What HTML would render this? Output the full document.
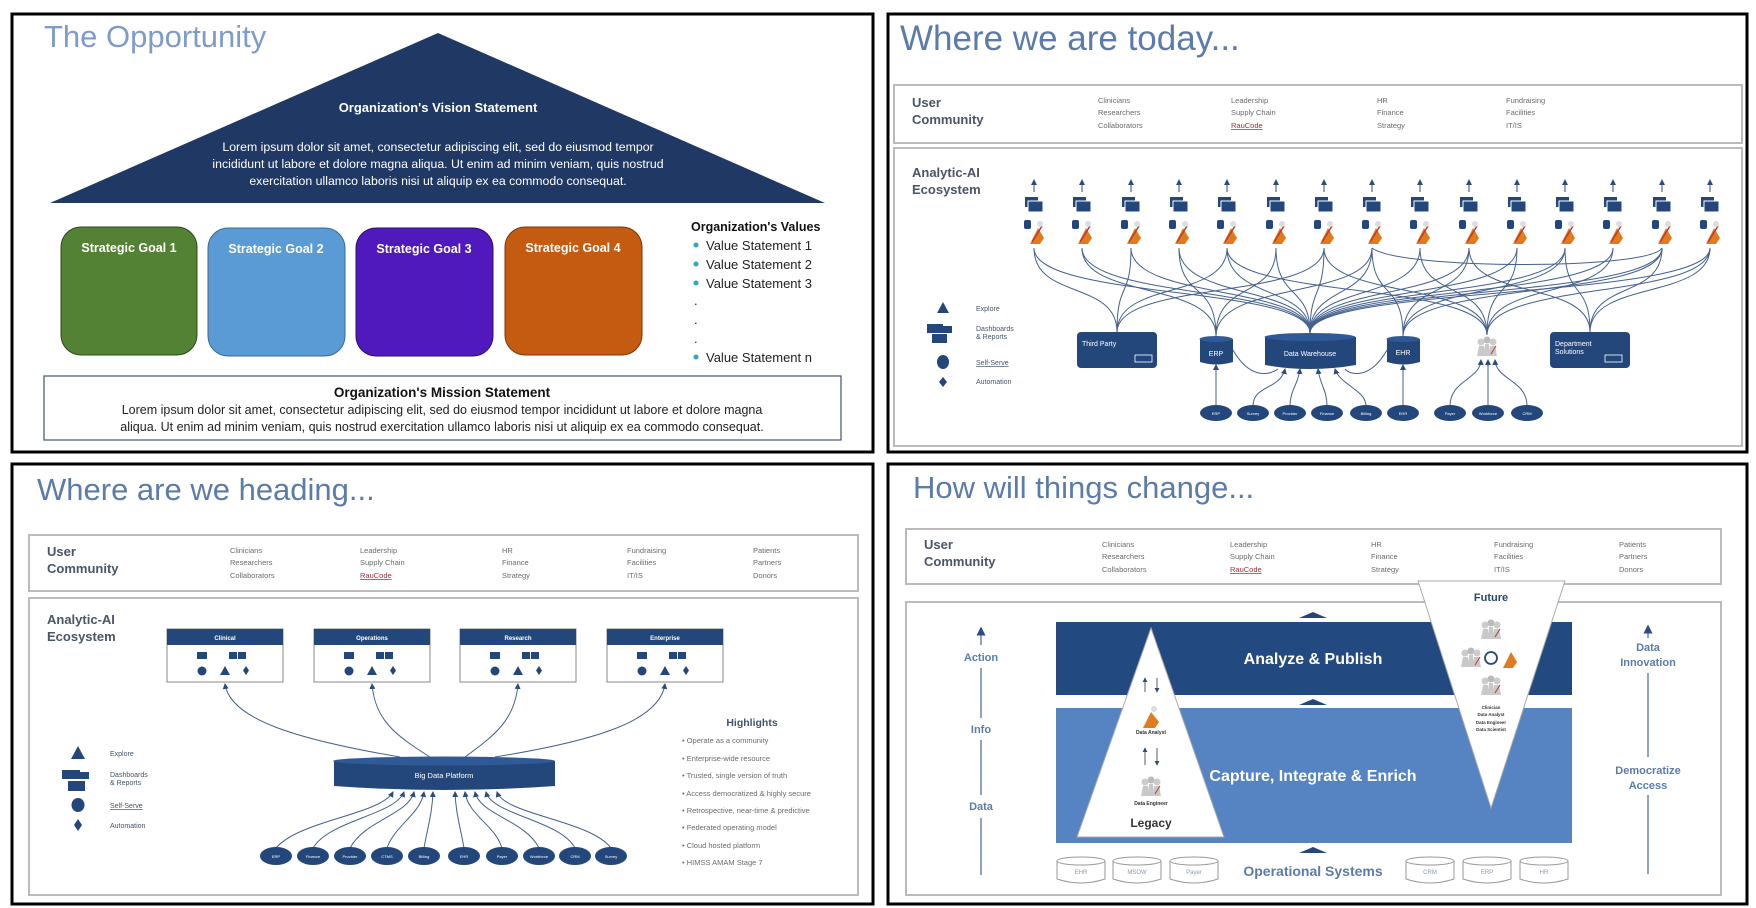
<!DOCTYPE html>
<html><head><meta charset="utf-8"><style>
html,body{margin:0;padding:0;background:#fff;}
svg{display:block;font-family:"Liberation Sans",sans-serif;}
.t{fill:#5b7cab;font-size:31px;}
.uc{fill:#4a5568;font-size:13px;font-weight:bold;}
.sm{fill:#6b6b6b;font-size:7.5px;}
.lg{fill:#44546a;font-size:7px;}
.cv{fill:none;stroke:#44618f;stroke-width:1;}
.nv{fill:#24477b;}
</style></head><body>
<svg width="1756" height="908" viewBox="0 0 1756 908" xmlns="http://www.w3.org/2000/svg">
<defs>
<marker id="ah" markerWidth="6" markerHeight="6" refX="5" refY="3" orient="auto"><path d="M0,0 L6,3 L0,6 z" fill="#2b4c80"/></marker>
<g id="col">
<line x1="0" y1="192" x2="0" y2="180" stroke="#2b4c80" stroke-width="1" marker-end="url(#ah)"/>
<rect x="-9" y="197" width="13" height="10" fill="#24477b"/>
<rect x="-6" y="201" width="15" height="11" fill="#24477b" stroke="#fff" stroke-width="1"/>
<rect x="-10" y="220" width="7" height="9" rx="2" fill="#24477b"/>
<path d="M-4 244 L4 228 L10 238 L6 244 Z" fill="#e07b20"/>
<path d="M-2 242 L8 226" stroke="#c0392b" stroke-width="1.5"/>
<circle cx="6" cy="224" r="3" fill="#ddd"/>
</g>
<g id="bx">
<rect x="0" y="0" width="116" height="53" fill="#fff" stroke="#888" stroke-width="1"/>
<rect x="0" y="0" width="116" height="16" fill="#24477b"/>
<rect x="30" y="23" width="10" height="7" fill="#24477b"/>
<rect x="62" y="23" width="8" height="7" fill="#24477b"/><rect x="71" y="23" width="8" height="7" fill="#24477b"/>
<circle cx="35" cy="42" r="4.5" fill="#24477b"/>
<path d="M53 46 L58 37 L63 46 Z" fill="#24477b"/>
<path d="M79 37 L82 41.5 L79 46 L76 41.5 Z" fill="#24477b"/>
</g>
<g id="cyl">
<path d="M0 4 L0 22 Q24 30 48 22 L48 4" fill="#fff" stroke="#999"/>
<ellipse cx="24" cy="4" rx="24" ry="4" fill="#fff" stroke="#999"/>
</g>
<g id="ppl">
<circle cx="-6" cy="-6" r="3.5" fill="#ccc"/><circle cx="0" cy="-8" r="3.5" fill="#bbb"/><circle cx="6" cy="-6" r="3.5" fill="#ccc"/>
<path d="M-10 8 L-8 -2 L-3 -2 L-2 8 Z M-3 8 L-2 -4 L2 -4 L3 8 Z M2 8 L3 -2 L8 -2 L10 8Z" fill="#c9c9c9"/>
<path d="M4 6 L9 -2" stroke="#c0392b" stroke-width="1"/>
</g>
</defs>
<rect width="1756" height="908" fill="#fff"/>

<rect x="12" y="14" width="861" height="438" fill="none" stroke="#000" stroke-width="3"/>
<rect x="888" y="14" width="859" height="438" fill="none" stroke="#000" stroke-width="3"/>
<rect x="12" y="464" width="861" height="440" fill="none" stroke="#000" stroke-width="3"/>
<rect x="888" y="464" width="859" height="440" fill="none" stroke="#000" stroke-width="3"/>

<!-- TL -->
<text x="44" y="47" fill="#7f9cc9" font-size="31">The Opportunity</text>
<polygon points="438,33 825,203 50,203" fill="#1f3864"/>
<text x="438" y="112" fill="#fff" font-size="13" font-weight="bold" text-anchor="middle">Organization's Vision Statement</text>
<g fill="#fff" font-size="12.3" text-anchor="middle">
<text x="438" y="151">Lorem ipsum dolor sit amet, consectetur adipiscing elit, sed do eiusmod tempor</text>
<text x="438" y="168">incididunt ut labore et dolore magna aliqua. Ut enim ad minim veniam, quis nostrud</text>
<text x="438" y="185">exercitation ullamco laboris nisi ut aliquip ex ea commodo consequat.</text>
</g>
<rect x="61" y="227" width="136" height="128" rx="20" fill="#548235" stroke="#2d4a1c"/>
<rect x="208" y="228" width="137" height="128" rx="20" fill="#5b9bd5" stroke="#3a6a98"/>
<rect x="356" y="228" width="137" height="128" rx="20" fill="#5019bd" stroke="#2e0e70"/>
<rect x="505" y="227" width="137" height="128" rx="20" fill="#c55a11" stroke="#7a370a"/>
<g fill="#fff" font-size="12.5" font-weight="bold" text-anchor="middle">
<text x="129" y="252">Strategic Goal 1</text>
<text x="276" y="253">Strategic Goal 2</text>
<text x="424" y="253">Strategic Goal 3</text>
<text x="573" y="252">Strategic Goal 4</text>
</g>
<text x="691" y="231" fill="#111" font-size="12.5" font-weight="bold">Organization's Values</text>
<g fill="#2fa6c0"><circle cx="696" cy="245" r="2.5"/><circle cx="696" cy="264" r="2.5"/><circle cx="696" cy="283" r="2.5"/><circle cx="696" cy="357" r="2.5"/></g>
<g fill="#222" font-size="13">
<text x="706" y="250">Value Statement 1</text>
<text x="706" y="269">Value Statement 2</text>
<text x="706" y="288">Value Statement 3</text>
<text x="694" y="305">.</text><text x="694" y="324">.</text><text x="694" y="343">.</text>
<text x="706" y="362">Value Statement n</text>
</g>
<rect x="44" y="376" width="797" height="64" fill="#fff" stroke="#44546a" stroke-width="1.2"/>
<text x="442" y="397" fill="#111" font-size="13.5" font-weight="bold" text-anchor="middle">Organization's Mission Statement</text>
<g fill="#222" font-size="12.5" text-anchor="middle">
<text x="442" y="414">Lorem ipsum dolor sit amet, consectetur adipiscing elit, sed do eiusmod tempor incididunt ut labore et dolore magna</text>
<text x="442" y="431">aliqua. Ut enim ad minim veniam, quis nostrud exercitation ullamco laboris nisi ut aliquip ex ea commodo consequat.</text>
</g>

<!-- TR -->
<text class="t" x="900" y="50" font-size="35" style="font-size:35px">Where we are today...</text>
<rect x="894" y="85" width="848" height="58" fill="#fff" stroke="#bbb" stroke-width="2"/>
<text class="uc" x="912" y="107">User</text><text class="uc" x="912" y="124">Community</text>
<g class="sm">
<text x="1098" y="103">Clinicians</text><text x="1098" y="115">Researchers</text><text x="1098" y="128">Collaborators</text>
<text x="1231" y="103">Leadership</text><text x="1231" y="115">Supply Chain</text><text x="1231" y="128" fill="#a0303a" text-decoration="underline">RauCode</text>
<text x="1377" y="103">HR</text><text x="1377" y="115">Finance</text><text x="1377" y="128">Strategy</text>
<text x="1506" y="103">Fundraising</text><text x="1506" y="115">Facilities</text><text x="1506" y="128">IT/IS</text>
</g>
<rect x="894" y="148" width="848" height="298" fill="#fff" stroke="#bbb" stroke-width="2"/>
<text class="uc" x="912" y="177">Analytic-AI</text><text class="uc" x="912" y="194">Ecosystem</text>
<use href="#col" x="1034"/><use href="#col" x="1082"/><use href="#col" x="1131"/><use href="#col" x="1179"/><use href="#col" x="1227"/>
<use href="#col" x="1276"/><use href="#col" x="1324"/><use href="#col" x="1372"/><use href="#col" x="1420"/><use href="#col" x="1469"/>
<use href="#col" x="1517"/><use href="#col" x="1565"/><use href="#col" x="1613"/><use href="#col" x="1662"/><use href="#col" x="1710"/>
<g class="cv">
<path d="M1310 333 C1310 285 1034 300 1034 248"/><path d="M1310 333 C1310 285 1082 300 1082 248"/><path d="M1310 333 C1310 285 1131 300 1131 248"/>
<path d="M1310 333 C1310 285 1179 300 1179 248"/><path d="M1310 333 C1310 285 1227 300 1227 248"/><path d="M1310 333 C1310 285 1276 300 1276 248"/>
<path d="M1310 333 C1310 285 1324 300 1324 248"/><path d="M1310 333 C1310 285 1372 300 1372 248"/><path d="M1310 333 C1310 285 1420 300 1420 248"/>
<path d="M1310 333 C1310 285 1469 300 1469 248"/><path d="M1310 333 C1310 285 1517 300 1517 248"/><path d="M1310 333 C1310 285 1565 300 1565 248"/>
<path d="M1310 333 C1310 285 1613 300 1613 248"/><path d="M1310 333 C1310 285 1662 300 1662 248"/><path d="M1310 333 C1310 285 1710 300 1710 248"/>
<path d="M1117 332 C1117 280 1034 300 1034 248"/><path d="M1117 332 C1117 280 1131 300 1131 248"/><path d="M1117 332 C1117 280 1227 300 1227 248"/><path d="M1117 332 C1117 280 1324 300 1324 248"/>
<path d="M1216 336 C1216 280 1082 300 1082 248"/><path d="M1216 336 C1216 280 1179 300 1179 248"/><path d="M1216 336 C1216 280 1276 300 1276 248"/><path d="M1216 336 C1216 280 1372 300 1372 248"/>
<path d="M1403 336 C1403 280 1372 300 1372 248"/><path d="M1403 336 C1403 280 1469 300 1469 248"/><path d="M1403 336 C1403 280 1565 300 1565 248"/><path d="M1403 336 C1403 280 1662 300 1662 248"/>
<path d="M1487 335 C1487 280 1227 300 1227 248"/><path d="M1487 335 C1487 280 1324 300 1324 248"/><path d="M1487 335 C1487 280 1420 300 1420 248"/><path d="M1487 335 C1487 280 1517 300 1517 248"/><path d="M1487 335 C1487 280 1613 300 1613 248"/><path d="M1487 335 C1487 280 1710 300 1710 248"/>
<path d="M1590 332 C1590 280 1469 300 1469 248"/><path d="M1590 332 C1590 280 1565 300 1565 248"/><path d="M1590 332 C1590 280 1662 300 1662 248"/><path d="M1590 332 C1590 280 1710 300 1710 248"/>
<path d="M1372 248 C1400 270 1650 270 1662 248"/>
</g>
<rect x="1077" y="332" width="80" height="36" rx="4" class="nv"/>
<text x="1082" y="346" fill="#fff" font-size="7">Third Party</text>
<rect x="1135" y="355" width="17" height="7" fill="none" stroke="#fff" stroke-width="0.8"/>
<path d="M1200 339 L1200 362 Q1216 367 1233 362 L1233 339 Z" class="nv"/><ellipse cx="1216" cy="339" rx="16.5" ry="3" fill="#2f5a96"/>
<text x="1216" y="356" fill="#fff" font-size="7" text-anchor="middle">ERP</text>
<path d="M1265 337 L1265 365 Q1310 373 1356 365 L1356 337 Z" class="nv"/><ellipse cx="1310" cy="337" rx="45.5" ry="4" fill="#2f5a96"/>
<text x="1310" y="356" fill="#fff" font-size="7" text-anchor="middle">Data Warehouse</text>
<path d="M1387 339 L1387 362 Q1403 367 1420 362 L1420 339 Z" class="nv"/><ellipse cx="1403" cy="339" rx="16.5" ry="3" fill="#2f5a96"/>
<text x="1403" y="355" fill="#fff" font-size="7" text-anchor="middle">EHR</text>
<use href="#ppl" x="1487" y="348"/>
<rect x="1550" y="332" width="80" height="36" rx="4" class="nv"/>
<text x="1555" y="346" fill="#fff" font-size="7">Department</text><text x="1555" y="354" fill="#fff" font-size="7">Solutions</text>
<rect x="1605" y="355" width="17" height="7" fill="none" stroke="#fff" stroke-width="0.8"/>
<g class="cv">
<path d="M1216 406 L1216 365" marker-end="url(#ah)"/>
<path d="M1253 406 C1253 385 1280 390 1285 369" marker-end="url(#ah)"/>
<path d="M1290 406 C1290 390 1298 385 1300 369" marker-end="url(#ah)"/>
<path d="M1327 406 C1327 390 1320 385 1318 369" marker-end="url(#ah)"/>
<path d="M1366 406 C1366 390 1340 385 1335 369" marker-end="url(#ah)"/>
<path d="M1403 406 L1403 365" marker-end="url(#ah)"/>
<path d="M1233 350 C1250 380 1270 375 1278 369"/>
<path d="M1387 350 C1370 380 1350 375 1345 369"/>
<path d="M1450 406 C1450 380 1480 380 1481 360" marker-end="url(#ah)"/>
<path d="M1488 406 L1488 360" marker-end="url(#ah)"/>
<path d="M1527 406 C1527 380 1496 380 1495 360" marker-end="url(#ah)"/>
</g>
<g class="nv"><ellipse cx="1216" cy="413" rx="16" ry="8"/><ellipse cx="1253" cy="413" rx="16" ry="8"/><ellipse cx="1290" cy="413" rx="16" ry="8"/><ellipse cx="1327" cy="413" rx="16" ry="8"/><ellipse cx="1366" cy="413" rx="16" ry="8"/><ellipse cx="1403" cy="413" rx="16" ry="8"/><ellipse cx="1450" cy="413" rx="16" ry="8"/><ellipse cx="1488" cy="413" rx="16" ry="8"/><ellipse cx="1527" cy="413" rx="16" ry="8"/></g>
<g fill="#fff" font-size="4" text-anchor="middle"><text x="1216" y="415">ERP</text><text x="1253" y="415">Survey</text><text x="1290" y="415">Provider</text><text x="1327" y="415">Finance</text><text x="1366" y="415">Billing</text><text x="1403" y="415">EHR</text><text x="1450" y="415">Payer</text><text x="1488" y="415">Workforce</text><text x="1527" y="415">CRM</text></g>
<path d="M943 302 L949 313 L937 313 Z" class="nv"/><text class="lg" x="976" y="311">Explore</text>
<rect x="927" y="324" width="16" height="9" class="nv"/><rect x="940" y="326" width="12" height="7" class="nv"/><rect x="932" y="334" width="15" height="9" class="nv"/>
<text class="lg" x="976" y="331">Dashboards</text><text class="lg" x="976" y="339">&amp; Reports</text>
<ellipse cx="943" cy="362" rx="6" ry="7" class="nv"/><text class="lg" x="976" y="365" fill="#a0303a" text-decoration="underline">Self-Serve</text>
<path d="M943 377 L947 382 L943 387 L939 382 Z" class="nv"/><text class="lg" x="976" y="384">Automation</text>

<!-- BL -->
<text class="t" x="37" y="500">Where are we heading...</text>
<rect x="29" y="535" width="829" height="56" fill="#fff" stroke="#bbb" stroke-width="2"/>
<text class="uc" x="47" y="556">User</text><text class="uc" x="47" y="573">Community</text>
<g class="sm">
<text x="230" y="553">Clinicians</text><text x="230" y="565">Researchers</text><text x="230" y="578">Collaborators</text>
<text x="360" y="553">Leadership</text><text x="360" y="565">Supply Chain</text><text x="360" y="578" fill="#a0303a" text-decoration="underline">RauCode</text>
<text x="502" y="553">HR</text><text x="502" y="565">Finance</text><text x="502" y="578">Strategy</text>
<text x="627" y="553">Fundraising</text><text x="627" y="565">Facilities</text><text x="627" y="578">IT/IS</text>
<text x="753" y="553">Patients</text><text x="753" y="565">Partners</text><text x="753" y="578">Donors</text>
</g>
<rect x="29" y="598" width="829" height="297" fill="#fff" stroke="#bbb" stroke-width="2"/>
<text class="uc" x="47" y="624">Analytic-AI</text><text class="uc" x="47" y="641">Ecosystem</text>
<use href="#bx" x="167" y="629"/><use href="#bx" x="314" y="629"/><use href="#bx" x="460" y="629"/><use href="#bx" x="607" y="629"/>
<g fill="#fff" font-size="6" font-weight="bold" text-anchor="middle"><text x="225" y="640">Clinical</text><text x="372" y="640">Operations</text><text x="518" y="640">Research</text><text x="665" y="640">Enterprise</text></g>
<g class="cv">
<path d="M400 757 C300 740 230 720 225 684" marker-end="url(#ah)"/>
<path d="M430 757 C395 735 375 720 372 684" marker-end="url(#ah)"/>
<path d="M465 757 C495 735 515 720 518 684" marker-end="url(#ah)"/>
<path d="M495 757 C600 740 660 720 665 684" marker-end="url(#ah)"/>
<path d="M276 848 C300 820 380 815 393 792" marker-end="url(#ah)"/>
<path d="M313 848 C330 820 395 815 404 792" marker-end="url(#ah)"/>
<path d="M350 848 C365 820 408 815 414 792" marker-end="url(#ah)"/>
<path d="M387 848 C395 825 420 815 424 792" marker-end="url(#ah)"/>
<path d="M424 848 C428 825 432 815 433 792" marker-end="url(#ah)"/>
<path d="M464 848 C460 825 456 815 455 792" marker-end="url(#ah)"/>
<path d="M502 848 C495 825 468 815 465 792" marker-end="url(#ah)"/>
<path d="M539 848 C525 820 480 815 475 792" marker-end="url(#ah)"/>
<path d="M575 848 C560 820 492 815 486 792" marker-end="url(#ah)"/>
<path d="M611 848 C590 820 505 815 497 792" marker-end="url(#ah)"/>
</g>
<path d="M334 761 L334 786 Q444 794 555 786 L555 761 Z" class="nv"/><ellipse cx="444" cy="761" rx="111" ry="4.5" fill="#2f5a96"/>
<text x="444" y="778" fill="#fff" font-size="7.5" text-anchor="middle">Big Data Platform</text>
<g class="nv"><ellipse cx="276" cy="856" rx="16" ry="9"/><ellipse cx="313" cy="856" rx="16" ry="9"/><ellipse cx="350" cy="856" rx="16" ry="9"/><ellipse cx="387" cy="856" rx="16" ry="9"/><ellipse cx="424" cy="856" rx="16" ry="9"/><ellipse cx="464" cy="856" rx="16" ry="9"/><ellipse cx="502" cy="856" rx="16" ry="9"/><ellipse cx="539" cy="856" rx="16" ry="9"/><ellipse cx="575" cy="856" rx="16" ry="9"/><ellipse cx="611" cy="856" rx="16" ry="9"/></g>
<g fill="#fff" font-size="4" text-anchor="middle"><text x="276" y="858">ERP</text><text x="313" y="858">Finance</text><text x="350" y="858">Provider</text><text x="387" y="858">CTMS</text><text x="424" y="858">Billing</text><text x="464" y="858">EHR</text><text x="502" y="858">Payer</text><text x="539" y="858">Workforce</text><text x="575" y="858">CRM</text><text x="611" y="858">Survey</text></g>
<path d="M78 746 L85 759 L71 759 Z" class="nv"/><text class="lg" x="110" y="756">Explore</text>
<rect x="62" y="770" width="18" height="9" class="nv"/><rect x="76" y="772" width="13" height="7" class="nv"/><rect x="68" y="781" width="17" height="10" class="nv"/>
<text class="lg" x="110" y="777">Dashboards</text><text class="lg" x="110" y="785">&amp; Reports</text>
<ellipse cx="78" cy="805" rx="6.5" ry="7" class="nv"/><text class="lg" x="110" y="808" fill="#a0303a" text-decoration="underline">Self-Serve</text>
<path d="M78 819 L82 825 L78 831 L74 825 Z" class="nv"/><text class="lg" x="110" y="828">Automation</text>
<text x="752" y="726" fill="#44546a" font-size="10.5" font-weight="bold" text-anchor="middle">Highlights</text>
<g class="sm" fill="#5a6b85">
<text x="682" y="743">•  Operate as a community</text>
<text x="682" y="761">•  Enterprise-wide resource</text>
<text x="682" y="778">•  Trusted, single version of truth</text>
<text x="682" y="796">•  Access democratized &amp; highly secure</text>
<text x="682" y="813">•  Retrospective, near-time &amp; predictive</text>
<text x="682" y="830">•  Federated operating model</text>
<text x="682" y="848">•  Cloud hosted platform</text>
<text x="682" y="865">•  HIMSS AMAM Stage 7</text>
</g>

<!-- BR -->
<text class="t" x="913" y="498">How will things change...</text>
<rect x="906" y="529" width="815" height="55" fill="#fff" stroke="#bbb" stroke-width="2"/>
<text class="uc" x="924" y="549">User</text><text class="uc" x="924" y="566">Community</text>
<g class="sm">
<text x="1102" y="547">Clinicians</text><text x="1102" y="559">Researchers</text><text x="1102" y="572">Collaborators</text>
<text x="1230" y="547">Leadership</text><text x="1230" y="559">Supply Chain</text><text x="1230" y="572" fill="#a0303a" text-decoration="underline">RauCode</text>
<text x="1371" y="547">HR</text><text x="1371" y="559">Finance</text><text x="1371" y="572">Strategy</text>
<text x="1494" y="547">Fundraising</text><text x="1494" y="559">Facilities</text><text x="1494" y="572">IT/IS</text>
<text x="1619" y="547">Patients</text><text x="1619" y="559">Partners</text><text x="1619" y="572">Donors</text>
</g>
<rect x="906" y="602" width="815" height="293" fill="#fff" stroke="#bbb" stroke-width="2"/>
<rect x="1056" y="622" width="516" height="73" fill="#234a80"/>
<rect x="1056" y="708" width="516" height="135" fill="#5683c2"/>
<g fill="#24477b">
<path d="M1299 618 L1313 612 L1327 618 Z"/><path d="M1299 705 L1313 699 L1327 705 Z"/><path d="M1299 853 L1313 847 L1327 853 Z"/>
</g>
<text x="1313" y="664" fill="#fff" font-size="16" font-weight="bold" text-anchor="middle">Analyze &amp; Publish</text>
<text x="1313" y="781" fill="#fff" font-size="16" font-weight="bold" text-anchor="middle">Capture, Integrate &amp; Enrich</text>
<polygon points="1151,628 1224,837 1077,837" fill="#fff" stroke="#aaa"/>
<g stroke="#333" stroke-width="0.8"><line x1="1145" y1="692" x2="1145" y2="678" marker-end="url(#ah)"/><line x1="1157" y1="678" x2="1157" y2="692" marker-end="url(#ah)"/>
<line x1="1145" y1="765" x2="1145" y2="748" marker-end="url(#ah)"/><line x1="1157" y1="748" x2="1157" y2="765" marker-end="url(#ah)"/></g>
<path d="M1143 728 L1151 712 L1159 722 L1155 728 Z" fill="#e07b20"/><circle cx="1154" cy="709" r="3" fill="#ddd"/>
<text x="1151" y="734" fill="#333" font-size="5" font-weight="bold" text-anchor="middle">Data Analyst</text>
<use href="#ppl" x="1151" y="788"/>
<text x="1151" y="805" fill="#333" font-size="5" font-weight="bold" text-anchor="middle">Data Engineer</text>
<text x="1151" y="827" fill="#333" font-size="12" font-weight="bold" text-anchor="middle">Legacy</text>
<polygon points="1418,581 1565,581 1491,808" fill="#fff" stroke="#aaa"/>
<text x="1491" y="601" fill="#24477b" font-size="11" font-weight="bold" text-anchor="middle">Future</text>
<use href="#ppl" x="1491" y="631"/>
<use href="#ppl" x="1471" y="659"/>
<circle cx="1491" cy="658" r="6" fill="none" stroke="#24477b" stroke-width="1.8"/>
<path d="M1503 668 L1511 652 L1517 662 L1513 668 Z" fill="#e07b20"/>
<use href="#ppl" x="1491" y="687"/>
<g fill="#333" font-size="4.5" font-weight="bold" text-anchor="middle"><text x="1491" y="709">Clinician</text><text x="1491" y="716">Data Analyst</text><text x="1491" y="724">Data Engineer</text><text x="1491" y="731">Data Scientist</text></g>
<g stroke="#6a86ad" stroke-width="1.5">
<line x1="981" y1="645" x2="981" y2="628" marker-end="url(#ah)"/><line x1="981" y1="668" x2="981" y2="718"/><line x1="981" y1="740" x2="981" y2="795"/><line x1="981" y1="818" x2="981" y2="875"/>
<line x1="1648" y1="638" x2="1648" y2="626" marker-end="url(#ah)"/><line x1="1648" y1="673" x2="1648" y2="757"/><line x1="1648" y1="795" x2="1648" y2="874"/>
</g>
<g fill="#5b7cab" font-size="11" font-weight="bold" text-anchor="middle">
<text x="981" y="661">Action</text><text x="981" y="733">Info</text><text x="981" y="810">Data</text>
<text x="1648" y="651">Data</text><text x="1648" y="666">Innovation</text>
<text x="1648" y="774">Democratize</text><text x="1648" y="789">Access</text>
</g>
<use href="#cyl" x="1057" y="857"/><use href="#cyl" x="1113" y="857"/><use href="#cyl" x="1170" y="857"/>
<use href="#cyl" x="1406" y="857"/><use href="#cyl" x="1463" y="857"/><use href="#cyl" x="1520" y="857"/>
<g fill="#8a99b0" font-size="6" text-anchor="middle"><text x="1081" y="874">EHR</text><text x="1137" y="874">MSOW</text><text x="1194" y="874">Payer</text><text x="1430" y="874">CRM</text><text x="1487" y="874">ERP</text><text x="1544" y="874">HR</text></g>
<text x="1313" y="876" fill="#5b7cab" font-size="14" font-weight="bold" text-anchor="middle">Operational Systems</text>
</svg>
</body></html>
